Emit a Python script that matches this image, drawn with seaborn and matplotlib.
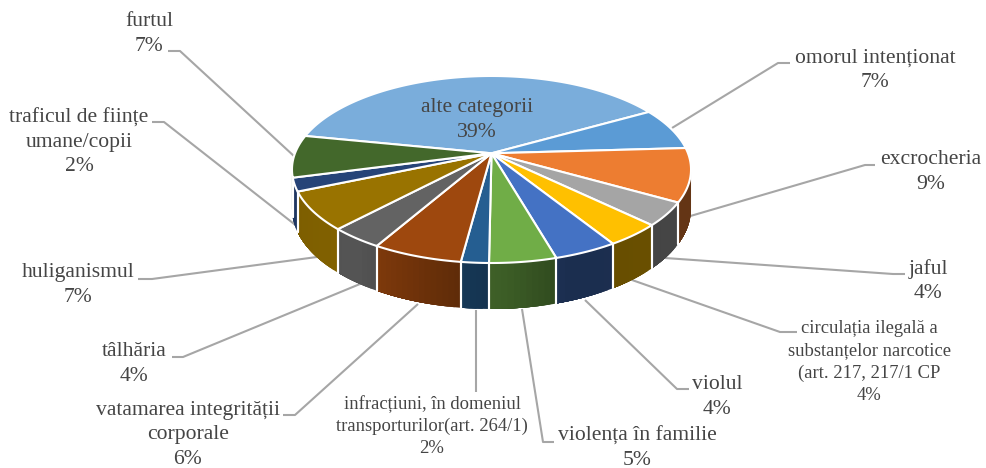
"""
3D pie of offence categories, drawn with a perspective projection of the unit circle.
"""

import matplotlib
matplotlib.use("Agg")
import matplotlib.pyplot as plt
import numpy as np
import seaborn as sns

categories = ["alte categorii", "omorul intenționat", "excrocheria", "jaful",
              "circulația ilegală a\nsubstanțelor narcotice\n(art. 217, 217/1 CP",
              "violul", "violența în familie",
              "infracțiuni, în domeniul\ntransporturilor(art. 264/1)",
              "vatamarea integrității\ncorporale", "tâlhăria", "huliganismul",
              "traficul de ființe\numane/copii", "furtul"]
shares = [38.6, 7.3, 9.2, 4.0, 3.9, 4.4, 4.6, 1.9, 6.2, 3.7, 6.6, 2.3, 7.3]
slice_colors = ["#7AADDB", "#5B9BD5", "#ED7D31", "#A5A5A5", "#FFC000", "#4472C4",
                "#70AD47", "#255E91", "#9E480E", "#636363", "#997300", "#264478",
                "#43682B"]

# label anchor (pixels) and font size, same order as categories
label_x = [477, 875, 931, 928, 869, 717, 637, 432, 188, 134, 78, 79, 149]
label_y = [120, 70, 172, 281, 362, 397, 448, 426, 435, 364, 285, 142, 34]
label_size = [15.6, 15.6, 15.6, 15.6, 13.4, 15.6, 15.6, 13.4, 15.6, 15.6, 15.6, 15.6, 15.6]

leaders = {
    "omorul": [(672, 128), (778, 63), (790, 63)],
    "excrocheria": [(687, 217), (865, 165), (875, 165)],
    "jaful": [(665, 258), (893, 274), (905, 274)],
    "circulatia": [(632, 280), (780, 332), (797, 332)],
    "violul": [(585, 300), (677, 389), (689, 389)],
    "violenta": [(522, 309), (543, 442), (554, 442)],
    "infractiuni": [(476, 310), (476, 392)],
    "vatamarea": [(418, 304), (295, 415), (283, 415)],
    "talharia": [(360, 284), (183, 357), (172, 357)],
    "huliganismul": [(317, 257), (152, 279), (138, 279)],
    "traficul": [(298, 227), (164, 122), (152, 122)],
    "furtul": [(295, 157), (180, 51), (168, 51)],
}

START_ANGLE = -78.6
APEX_X, APEX_Y = 491.5, 153.3
RADIUS_X, RADIUS_Y = 196.5, 90.7
TILT = 0.1732
DEPTH = 38.0

# how dark the wall gets at a given angle, clockwise from the top
shade_angles = [100, 120, 160, 175, 183, 198, 215, 235, 260]
shade_values = [0.42, 0.42, 0.40, 0.53, 0.57, 0.70, 0.85, 0.83, 0.80]


def project(angle_deg):
    theta = np.radians(angle_deg)
    u, v = np.sin(theta), np.cos(theta)
    w = 1 + TILT * v
    return APEX_X + RADIUS_X * u / w, APEX_Y - RADIUS_Y * v / w, DEPTH / w


def shade(color, factor):
    return tuple(c * factor for c in matplotlib.colors.to_rgb(color))


sns.set_theme(style="white")
plt.rcParams["font.family"] = ["Liberation Serif", "DejaVu Serif"]

fig, ax = plt.subplots(figsize=(9.87, 4.68), dpi=100)
fig.subplots_adjust(0, 0, 1, 1)
ax.set_xlim(0, 987)
ax.set_ylim(468, 0)
ax.axis("off")

edges = START_ANGLE + np.cumsum([0] + [s * 3.6 for s in shares])
palette = sns.color_palette(slice_colors)

for points in leaders.values():
    xs, ys = zip(*points)
    ax.plot(xs, ys, color="#A6A6A6", lw=1.5, zorder=1, solid_capstyle="butt")

# walls, only the part that faces the viewer
for start, end, color in zip(edges[:-1], edges[1:], palette):
    lo, hi = max(start, 100), min(end, 260)
    if hi <= lo:
        continue
    # each strip runs on to the end of the slice so no seams show between strips
    for a in np.arange(lo, hi, 1.5):
        sweep = np.linspace(a, hi, 40)
        xs, ys, ds = project(sweep)
        c = shade(color, np.interp(a, shade_angles, shade_values))
        ax.fill(np.r_[xs, xs[::-1]], np.r_[ys, (ys + ds)[::-1]], color=c, lw=0, zorder=2)
    for a in (lo, hi):
        if 100 < a < 260:
            x0, y0, d0 = project(a)
            ax.plot([x0, x0], [y0, y0 + d0], color="white", lw=1.5, zorder=3)

# top face
for start, end, color in zip(edges[:-1], edges[1:], palette):
    xs, ys, _ = project(np.linspace(start, end, 120))
    ax.fill(np.r_[APEX_X, xs], np.r_[APEX_Y, ys], facecolor=color,
            edgecolor="white", lw=1.5, joinstyle="round", zorder=4)

for name, share, x, y, size in zip(categories, shares, label_x, label_y, label_size):
    ax.text(x, y, f"{name}\n{share:.0f}%", ha="center", va="center", fontsize=size,
            color="#454545", linespacing=1.38, zorder=5)

fig.savefig("out.png", dpi=100)
